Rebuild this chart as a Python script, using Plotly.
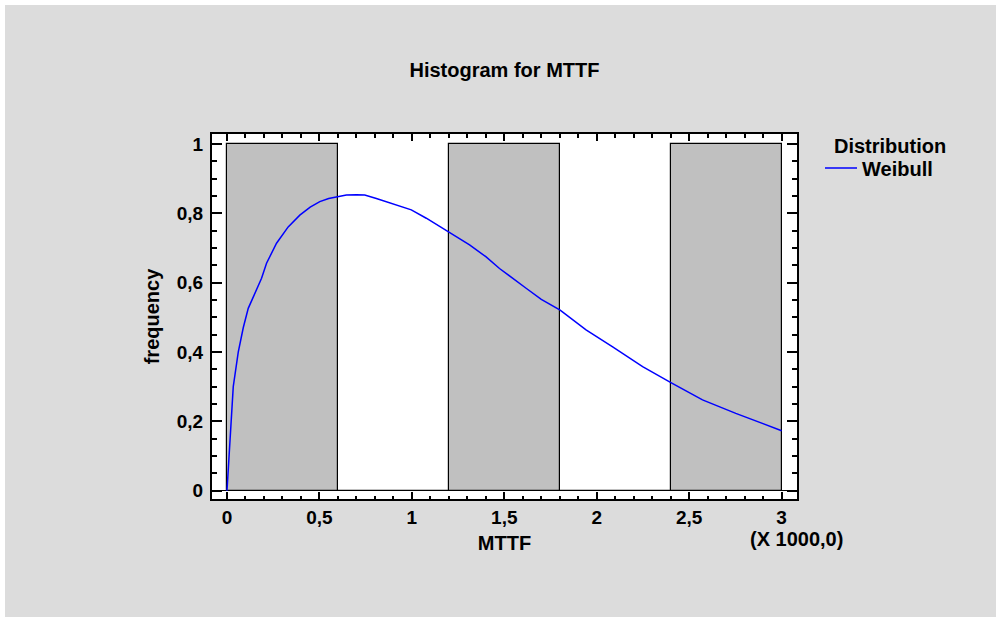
import plotly.graph_objects as go

# ---- data ----
bin_starts = [0, 600, 1200, 1800, 2400]
bin_width = 600
bin_counts = [1, 0, 1, 0, 1]

curve_x = [0, 34, 61, 88, 115, 142, 187, 214, 268, 331, 394, 450, 502, 550, 601, 646, 700, 745,
           808, 860, 916, 997, 1078, 1195, 1258, 1312, 1400, 1474, 1618, 1700, 1802, 1942, 2086,
           2248, 2401, 2572, 2752, 2896, 3000]
curve_y = [0, 0.30, 0.40, 0.47, 0.526, 0.56, 0.613, 0.656, 0.714, 0.761, 0.795, 0.818, 0.834, 0.843,
           0.848, 0.853, 0.854, 0.853, 0.843, 0.834, 0.824, 0.81, 0.786, 0.747, 0.728, 0.709,
           0.675, 0.641, 0.584, 0.552, 0.521, 0.464, 0.415, 0.358, 0.312, 0.262, 0.223, 0.194, 0.173]

x_tickvals = [0, 500, 1000, 1500, 2000, 2500, 3000]
x_ticktext = ["0", "0,5", "1", "1,5", "2", "2,5", "3"]
y_tickvals = [0, 0.2, 0.4, 0.6, 0.8, 1.0]
y_ticktext = ["0", "0,2", "0,4", "0,6", "0,8", "1"]

title_text = "Histogram for MTTF"
x_title = "MTTF"
y_title = "frequency"
scale_note = "(X 1000,0)"
legend_title = "Distribution"
series_name = "Weibull"

# ---- figure ----
W, H = 1001, 622
ML, MR, MT, MB = 212, 204, 134, 123
PW = W - ML - MR
PH = H - MT - MB
FONT = "Liberation Sans, Arial, sans-serif"

bin_centers = [s + bin_width / 2 for s in bin_starts]

fig = go.Figure()
fig.add_trace(go.Bar(
    x=bin_centers, y=bin_counts, width=[bin_width] * len(bin_starts),
    marker=dict(color="#c0c0c0", line=dict(color="black", width=1.2)),
    showlegend=False, hoverinfo="skip",
))
fig.add_trace(go.Scatter(
    x=curve_x, y=curve_y, mode="lines", name=series_name,
    line=dict(color="#0000ff", width=1.5),
))

axis_common = dict(
    showline=True, linecolor="black", linewidth=2, mirror="allticks",
    ticks="inside", tickcolor="black", tickwidth=1.5,
    showgrid=False,
    tickfont=dict(family=FONT, size=19, color="black", weight="bold"),
)

fig.update_xaxes(
    range=[-81, 3083], tickmode="array", tickvals=x_tickvals, ticktext=x_ticktext,
    ticklen=7, zeroline=False,
    minor=dict(ticks="inside", ticklen=3.5, dtick=100, tick0=0, tickcolor="black", tickwidth=1.5),
    title=dict(text=x_title, font=dict(family=FONT, size=20, color="black", weight="bold"), standoff=9),
    **axis_common,
)
fig.update_yaxes(
    range=[-0.024, 1.029], tickmode="array", tickvals=y_tickvals, ticktext=y_ticktext,
    ticklen=10, ticklabelstandoff=3,
    zeroline=True, zerolinecolor="black", zerolinewidth=1,
    minor=dict(ticks="inside", ticklen=5, dtick=0.05, tick0=0, tickcolor="black", tickwidth=1.5),
    title=dict(text=y_title, font=dict(family=FONT, size=20, color="black", weight="bold"), standoff=12),
    **axis_common,
)

def px2paper_x(px):
    return (px - ML) / PW

def px2paper_y(py):
    return (H - MB - py) / PH

fig.update_layout(
    width=W, height=H,
    margin=dict(l=ML, r=MR, t=MT, b=MB, autoexpand=False),
    paper_bgcolor="#dcdcdc", plot_bgcolor="white",
    bargap=0,
    title=dict(text=title_text, x=0.5, xref="paper", xanchor="center",
               y=1 - 70 / H, yref="container", yanchor="middle",
               font=dict(family=FONT, size=20, color="black", weight="bold")),
    legend=dict(
        font=dict(family=FONT, size=20, color="black", weight="bold"),
        x=px2paper_x(820), xanchor="left", y=px2paper_y(168), yanchor="middle",
        bgcolor="rgba(0,0,0,0)", itemwidth=32, tracegroupgap=0,
    ),
    annotations=[
        dict(text=legend_title, xref="paper", yref="paper",
             x=px2paper_x(890), xanchor="center", y=px2paper_y(146), yanchor="middle",
             showarrow=False, font=dict(family=FONT, size=20, color="black", weight="bold")),
        dict(text=scale_note, xref="paper", yref="paper",
             x=px2paper_x(845), xanchor="right", y=px2paper_y(539), yanchor="middle",
             showarrow=False, font=dict(family=FONT, size=20, color="black", weight="bold")),
    ],
    shapes=[dict(
        type="rect", xref="paper", yref="paper",
        x0=px2paper_x(0), x1=px2paper_x(W), y0=px2paper_y(H), y1=px2paper_y(0),
        line=dict(color="white", width=10), fillcolor="rgba(0,0,0,0)", layer="above",
    )],
)

fig.write_html("out.html")
